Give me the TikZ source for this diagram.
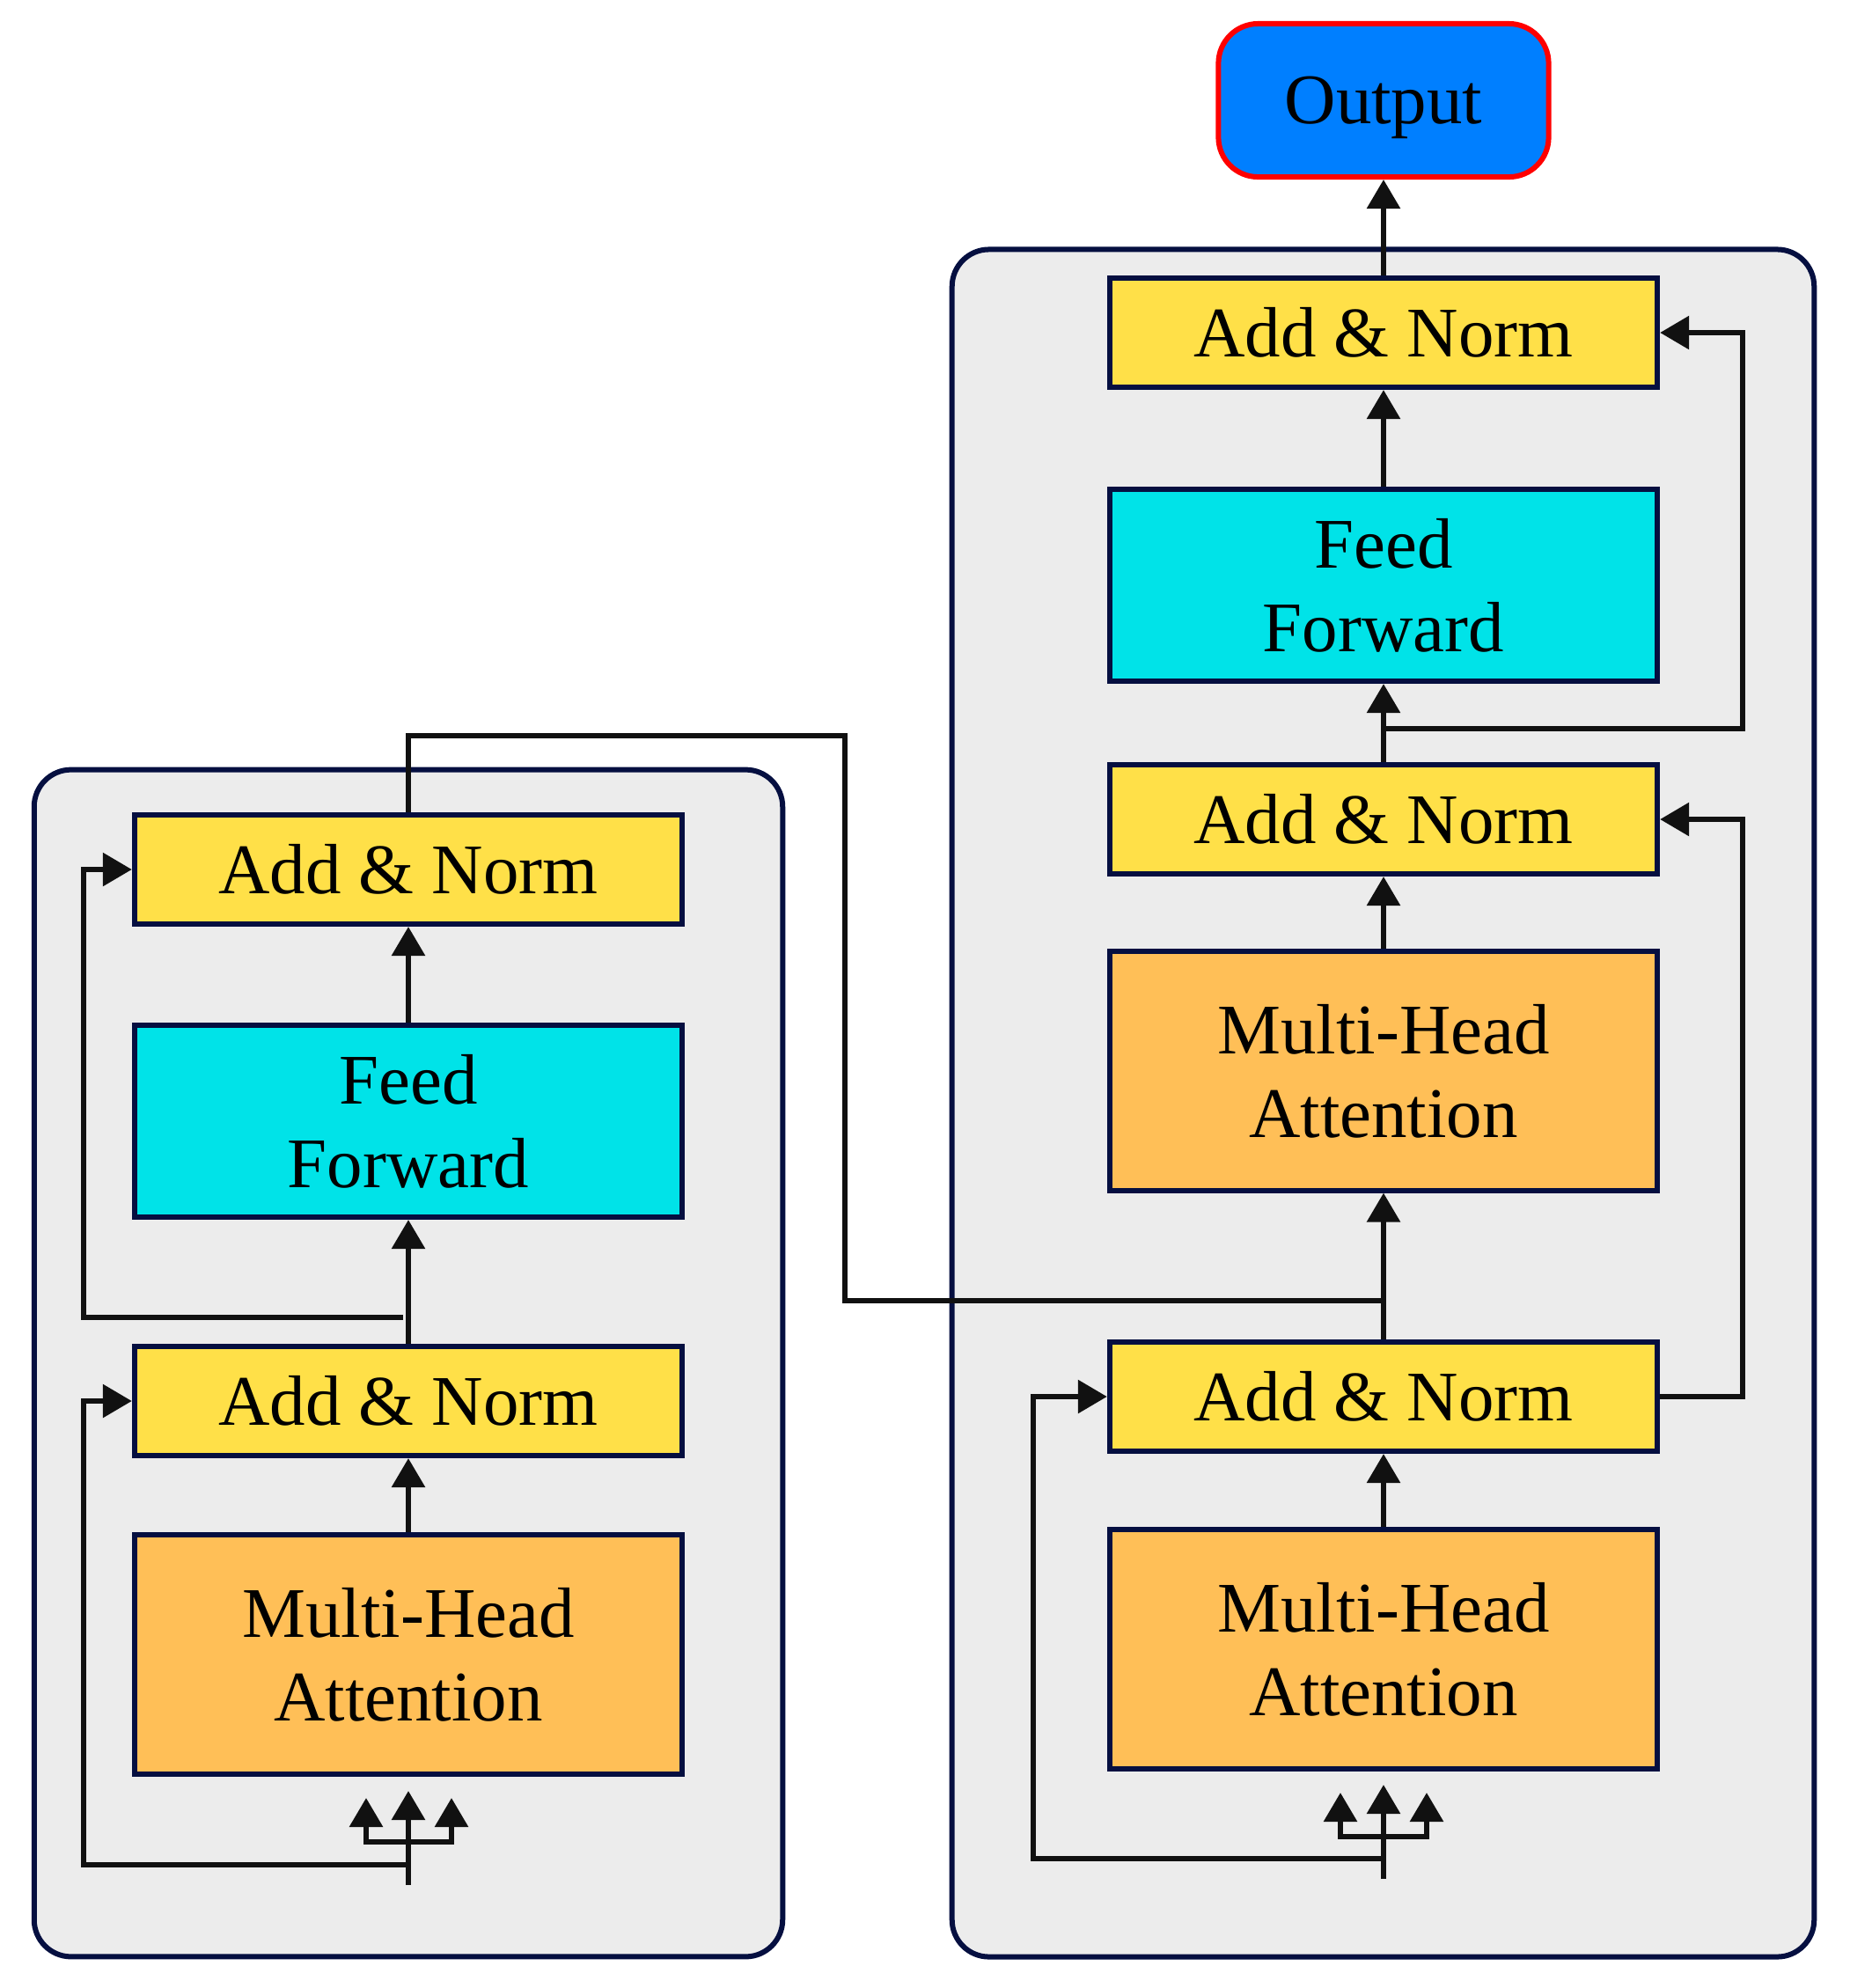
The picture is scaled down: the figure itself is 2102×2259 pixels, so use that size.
\documentclass[tikz,border=0pt]{standalone}
\usepackage{fontspec}
\setmainfont{Liberation Serif}
\usetikzlibrary{arrows.meta}
\definecolor{navy}{HTML}{050F40}
\definecolor{panel}{HTML}{ECECEC}
\definecolor{ayellow}{HTML}{FFE048}
\definecolor{fcyan}{HTML}{00E3E8}
\definecolor{morange}{HTML}{FFBF57}
\definecolor{oblue}{HTML}{007FFF}
\definecolor{lk}{HTML}{111111}
\begin{document}
\begin{tikzpicture}[x=0.01cm,y=-0.01cm,
  container/.style={draw=navy, fill=panel, line width=0.06cm, rounded corners=0.42cm, inner sep=0pt},
  box/.style={draw=navy, line width=0.06cm, minimum width=6.22cm, align=center,
    font=\fontsize{23}{27}\selectfont, inner sep=0pt},
  anbox/.style={box, fill=ayellow, minimum height=1.24cm},
  ffbox/.style={box, fill=fcyan, minimum height=2.18cm},
  mhabox/.style={box, fill=morange, minimum height=2.71cm},
  outbox/.style={draw=red, fill=oblue, line width=0.06cm, rounded corners=0.45cm,
    minimum width=3.75cm, minimum height=1.74cm, font=\fontsize{23}{27}\selectfont,
    inner sep=0pt, text depth=0pt},
  conn/.style={draw=lk, line width=0.06cm},
  arr/.style={conn, -{Triangle[length=0.33cm,width=0.37cm]}}
]
\useasboundingbox (0,0) rectangle (2102,2259);

% containers
\node[container, minimum width=8.50cm, minimum height=13.48cm] (lpanel) at (464,1549) {};
\node[container, minimum width=9.79cm, minimum height=19.39cm] (rpanel) at (1571.5,1253.5) {};

% output
\node[outbox] (out) at (1572,114) {Output};

% right column
\node[anbox]  (Ran1)  at (1572,378)  {Add \& Norm};
\node[ffbox]  (Rff)   at (1572,665)  {Feed\\Forward};
\node[anbox]  (Ran2)  at (1572,931)  {Add \& Norm};
\node[mhabox] (Rmha1) at (1572,1217) {Multi-Head\\Attention};
\node[anbox]  (Ran3)  at (1572,1587) {Add \& Norm};
\node[mhabox] (Rmha2) at (1572,1874) {Multi-Head\\Attention};

% left column
\node[anbox]  (Lan1) at (464,988)  {Add \& Norm};
\node[ffbox]  (Lff)  at (464,1274) {Feed\\Forward};
\node[anbox]  (Lan2) at (464,1592) {Add \& Norm};
\node[mhabox] (Lmha) at (464,1880) {Multi-Head\\Attention};

% coordinates
\coordinate (rrail) at (1980,0);
\coordinate (rlrail) at (1174,0);
\coordinate (lrail) at (95,0);
\coordinate (rb1) at (1575,828);
\coordinate (rjoin) at (1572,1478);
\coordinate (ltop) at (960,836);
\coordinate (lbot) at (960,1478);
\coordinate (rin) at (1572,2135);
\coordinate (rfork) at (1572,2087);
\coordinate (rtip) at (1572,2028);
\coordinate (rfl) at (1523,2037);
\coordinate (rfr) at (1621,2037);
\coordinate (rres) at (1572,2112);
\coordinate (lin) at (464,2142);
\coordinate (lfork) at (464,2093);
\coordinate (ltip) at (464,2035);
\coordinate (lfl) at (416,2043);
\coordinate (lfr) at (513,2043);
\coordinate (lres) at (464,2119);
\coordinate (lbr) at (458,1497);

% right main flow
\draw[arr] (Ran1.north) -- (out.south);
\draw[arr] (Rff.north) -- (Ran1.south);
\draw[arr] (Ran2.north) -- (Rff.south);
\draw[arr] (Rmha1.north) -- (Ran2.south);
\draw[arr] (Ran3.north) -- (Rmha1.south);
\draw[arr] (Rmha2.north) -- (Ran3.south);

% right residuals
\draw[arr] (rb1) -- (rb1 -| rrail) -- (Ran1.east -| rrail) -- (Ran1.east);
\draw[arr] (Ran3.east) -- (Ran3.east -| rrail) -- (Ran2.east -| rrail) -- (Ran2.east);
\draw[arr] (rres) -- (rres -| rlrail) -- (Ran3.west -| rlrail) -- (Ran3.west);

% right input fork
\draw[arr] (rin) -- (rtip);
\draw[arr] (rfork) -| (rfl);
\draw[arr] (rfork) -| (rfr);

% left main flow
\draw[arr] (Lmha.north) -- (Lan2.south);
\draw[arr] (Lan2.north) -- (Lff.south);
\draw[arr] (Lff.north) -- (Lan1.south);

% left residuals
\draw[arr] (lres) -- (lres -| lrail) -- (Lan2.west -| lrail) -- (Lan2.west);
\draw[arr] (lbr) -- (lbr -| lrail) -- (Lan1.west -| lrail) -- (Lan1.west);

% left input fork
\draw[arr] (lin) -- (ltip);
\draw[arr] (lfork) -| (lfl);
\draw[arr] (lfork) -| (lfr);

% encoder to decoder
\draw[conn] (Lan1.north) -- (Lan1.north |- ltop) -- (ltop) -- (lbot) -- (rjoin);
\end{tikzpicture}
\end{document}
